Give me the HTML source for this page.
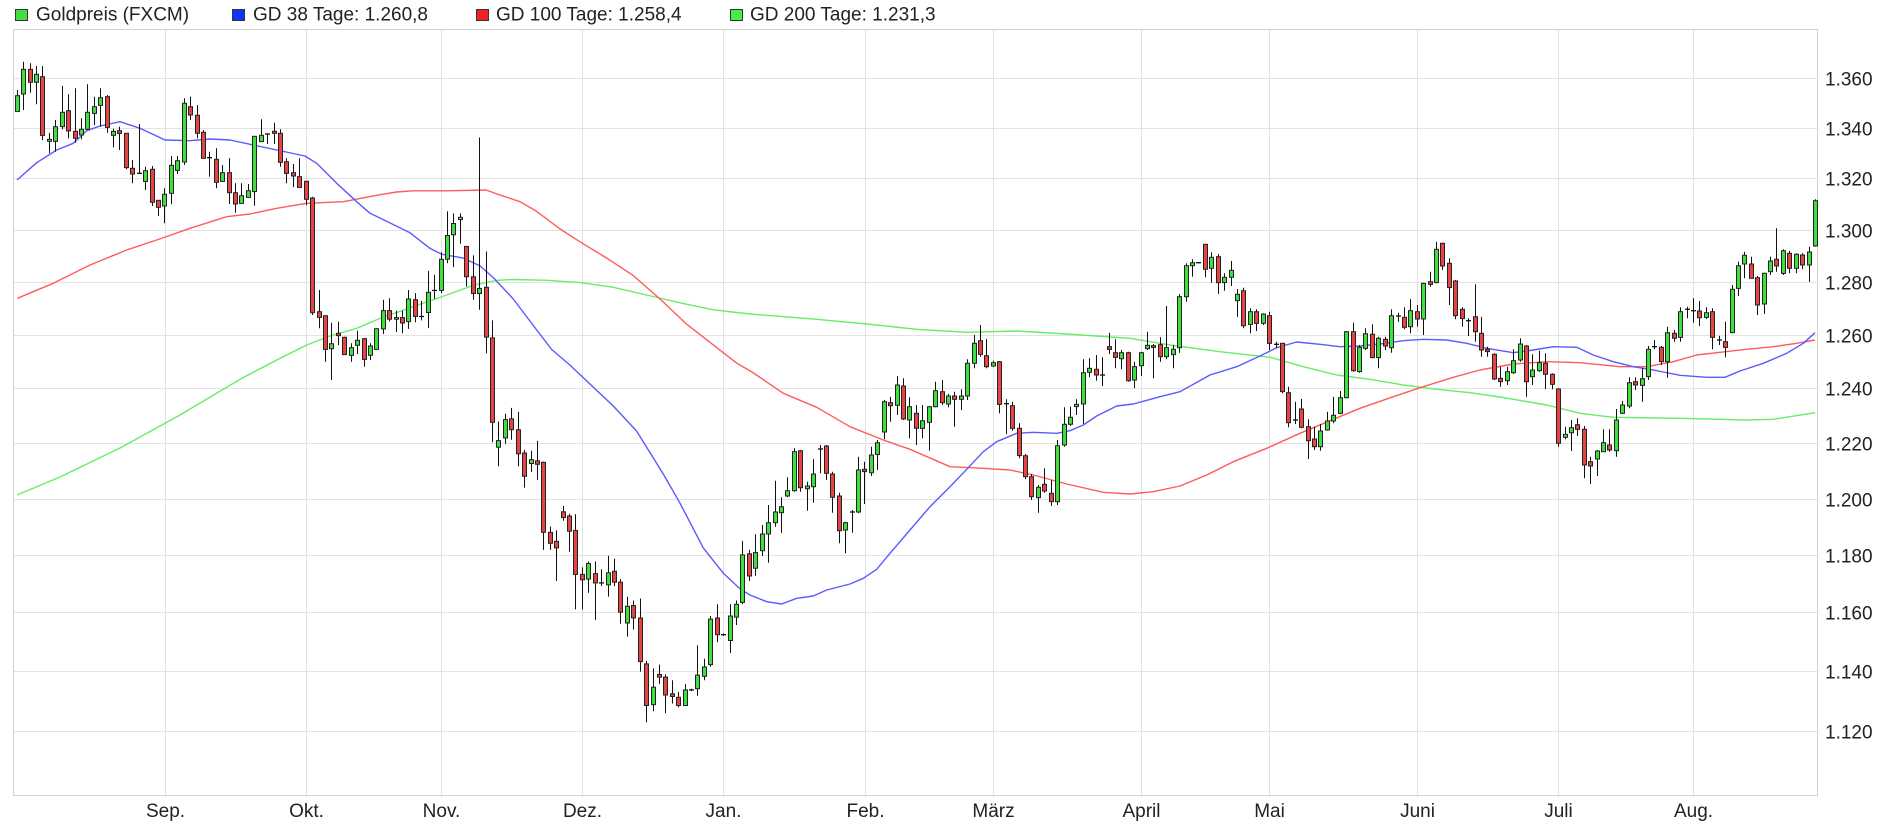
<!DOCTYPE html>
<html>
<head>
<meta charset="utf-8">
<style>
html,body{margin:0;padding:0;background:#fff;}
body{width:1890px;height:830px;overflow:hidden;}
svg{display:block;}
text{font-family:"Liberation Sans",Arial,sans-serif;fill:#222;}
</style>
</head>
<body>
<svg id="c" width="1890" height="830" viewBox="0 0 1890 830" xmlns="http://www.w3.org/2000/svg">
<rect x="0" y="0" width="1890" height="830" fill="#fff"/>
<!-- legend -->
<g font-size="19">
<rect x="15.5" y="9.5" width="12" height="11" fill="#44dd44" stroke="#333" stroke-width="1"/>
<text x="36" y="20.5">Goldpreis (FXCM)</text>
<rect x="232.5" y="9.5" width="12" height="11" fill="#1133ff" stroke="#333" stroke-width="1"/>
<text x="253" y="20.5">GD 38 Tage: 1.260,8</text>
<rect x="476.5" y="9.5" width="12" height="11" fill="#ee2222" stroke="#333" stroke-width="1"/>
<text x="496" y="20.5">GD 100 Tage: 1.258,4</text>
<rect x="730.5" y="9.5" width="12" height="11" fill="#44ee44" stroke="#333" stroke-width="1"/>
<text x="750" y="20.5">GD 200 Tage: 1.231,3</text>
</g>
<!-- grid -->
<g stroke="#e2e2e2" stroke-width="1">
<line x1="14" x2="1818" y1="78.5" y2="78.5"/>
<line x1="14" x2="1818" y1="128.5" y2="128.5"/>
<line x1="14" x2="1818" y1="178.5" y2="178.5"/>
<line x1="14" x2="1818" y1="230.5" y2="230.5"/>
<line x1="14" x2="1818" y1="282.5" y2="282.5"/>
<line x1="14" x2="1818" y1="335.5" y2="335.5"/>
<line x1="14" x2="1818" y1="388.5" y2="388.5"/>
<line x1="14" x2="1818" y1="443.5" y2="443.5"/>
<line x1="14" x2="1818" y1="499.5" y2="499.5"/>
<line x1="14" x2="1818" y1="555.5" y2="555.5"/>
<line x1="14" x2="1818" y1="612.5" y2="612.5"/>
<line x1="14" x2="1818" y1="671.5" y2="671.5"/>
<line x1="14" x2="1818" y1="731.5" y2="731.5"/>
<line y1="30" y2="797" x1="165.5" x2="165.5"/>
<line y1="30" y2="797" x1="306.5" x2="306.5"/>
<line y1="30" y2="797" x1="441.5" x2="441.5"/>
<line y1="30" y2="797" x1="582.5" x2="582.5"/>
<line y1="30" y2="797" x1="723.5" x2="723.5"/>
<line y1="30" y2="797" x1="865.5" x2="865.5"/>
<line y1="30" y2="797" x1="993.5" x2="993.5"/>
<line y1="30" y2="797" x1="1141.5" x2="1141.5"/>
<line y1="30" y2="797" x1="1269.5" x2="1269.5"/>
<line y1="30" y2="797" x1="1417.5" x2="1417.5"/>
<line y1="30" y2="797" x1="1558.5" x2="1558.5"/>
<line y1="30" y2="797" x1="1693.5" x2="1693.5"/>
</g>
<rect x="13.5" y="29.5" width="1804" height="766" fill="none" stroke="#d2d2d2" stroke-width="1"/>
<!-- y labels -->
<g font-size="19">
<text x="1825" y="85.3">1.360</text>
<text x="1825" y="135.3">1.340</text>
<text x="1825" y="185.3">1.320</text>
<text x="1825" y="237.3">1.300</text>
<text x="1825" y="289.3">1.280</text>
<text x="1825" y="342.3">1.260</text>
<text x="1825" y="395.3">1.240</text>
<text x="1825" y="450.3">1.220</text>
<text x="1825" y="506.3">1.200</text>
<text x="1825" y="562.3">1.180</text>
<text x="1825" y="619.3">1.160</text>
<text x="1825" y="678.3">1.140</text>
<text x="1825" y="738.3">1.120</text>
</g>
<!-- x labels -->
<g font-size="19" text-anchor="middle">
<text x="165.5" y="817">Sep.</text>
<text x="306.5" y="817">Okt.</text>
<text x="441.5" y="817">Nov.</text>
<text x="582.5" y="817">Dez.</text>
<text x="723.5" y="817">Jan.</text>
<text x="865.5" y="817">Feb.</text>
<text x="993.5" y="817">März</text>
<text x="1141.5" y="817">April</text>
<text x="1269.5" y="817">Mai</text>
<text x="1417.5" y="817">Juni</text>
<text x="1558.5" y="817">Juli</text>
<text x="1693.5" y="817">Aug.</text>
</g>
<!-- moving averages -->
<g fill="none" stroke-width="1.4" stroke-linejoin="round">
<polyline stroke="#66ee66" points="17,495 60,477 120,448 180,415 240,379.3 276.7,360 306.7,345 330,336 356.7,328.3 380,318.4 413.3,306.7 446.7,295 473.3,285.3 496.7,280.3 513.3,279.5 546.7,280.3 580,282.6 613.3,287.3 646.7,295 680,302.8 713.3,309.8 750,314 816.7,319.3 866.7,324 916.7,329.3 966.7,332.3 1016.7,331 1066.7,334 1130,338.3 1170,345 1220,351.7 1270,357.3 1303.3,366.7 1336.7,375 1370,379.3 1403.3,385 1436.7,389.3 1470,392.7 1500,397 1546.7,405 1580,413.3 1613.3,417.3 1680,418.3 1746.7,420 1773.3,419.3 1815,412.7"/>
<polyline stroke="#ff5c5c" points="17.3,298.3 53.3,283.3 90,265 126.7,250 156.7,240 190,228.3 226.7,216.7 250,214 276.7,208.3 306.7,203.3 343.3,201.7 380,194.7 396.7,192 413.3,190.8 446.7,190.8 486,190 496.7,193.9 520,201.7 536.7,211.4 560,228.9 580,241.8 606.7,258.1 633.3,275.6 660,299 686.7,324.2 713.3,344.9 736.7,363.1 752,372 783.3,393.3 816.7,407.3 850,426.7 883.3,440 910,449.3 950,466.7 983.3,468.3 1010,470 1033.3,475 1066.7,484 1103.3,492.3 1130,494 1153.3,491.7 1180,486 1206.7,475 1233.3,461.7 1266.7,448.3 1300,433.3 1333.3,419.3 1360,408.3 1393.3,396.7 1420,387.7 1453.3,377.3 1480,370 1513.3,364 1546.7,361.7 1580,362.7 1620,366.7 1646.7,366.7 1673.3,361.7 1696.7,355 1720,352.3 1746.7,349.3 1773.3,346.7 1796.7,343.3 1815,340"/>
<polyline stroke="#5a5aff" points="17,180 36.7,162.7 56.7,150 73.3,143.3 86.7,130.7 100,126 120,121.7 140,128.3 165,140 190,140.7 210,139 230,140 250,144.3 276.7,150 305,156 316.7,163.3 336.7,183.3 356.7,201.7 370,213.3 380,218 410,232.8 430,248.4 441.7,254.2 463.3,258.1 480,265.9 493.3,277.6 513.3,299 536.7,330 551.7,349.5 570,365.1 582.3,376.8 613.3,406 636.7,431.2 663.3,474 680,503.2 703.3,547.9 723.3,573.2 740,588.8 750,595 766.7,601.7 781.7,604 796.7,598.3 813.3,596 826.7,590 850,584 863.3,578.3 876.7,569.3 890,553.3 910,530 930,506.7 950,486.7 966.7,469.3 983.3,451.7 996.7,441.7 1016.7,433.3 1033.3,432.3 1056.7,433.3 1070,430.7 1083.3,425 1096.7,416 1116.7,406 1133.3,404 1160,396.7 1180,391.7 1210,375 1236.7,366.7 1260,356 1276.7,347.7 1296.7,342 1320,344.3 1340,346.7 1360,346 1380,344 1403.3,340.7 1423.3,339.3 1446.7,340 1466.7,343.3 1486.7,348.3 1513.3,352.7 1533.3,350 1553.3,346.7 1576.7,347.3 1593.3,355 1613.3,361.7 1633.3,366.7 1653.3,370 1680,375.3 1706.7,377.3 1725,377.3 1740,371 1763.3,363.3 1786.7,353.3 1803.3,343.3 1815,332.7"/>
</g>
<g id="cd"></g>
</svg>
<script>
var segs=[
[1,50,3,"g137,184,120,184 g58,132,35,180 r58,97,40,128 g73,97,48,163 r80,256,48,270 g268,274,248,310 g230,274,210,305 g187,230,108,238 r182,243,133,265 r244,265,115,278 g238,255,205,268 g187,238,103,240 g170,190,140,225 g143,166,115,230 r140,232,135,248 g244,256,236,292 r242,250,230,300 r250,353,250,358 r355,372,330,400 d370,370,222,372 g362,394,350,420 r358,457,348,468 r451,472,450,498 g433,468,415,520 g346,430,318,463 g332,361,318,372 g160,336,145,345 r170,195,140,210 r196,250,165,265 r247,325,240,325 d323,323,305,380 r328,397,295,415 g368,394,345,395 r368,428,325,462 r428,462,400,488 g437,460,400,460 g422,442,402,442 g259,425,258,467 g256,275,208,275 d252,252,250,282 r244,250,218,282 r250,337,238,350 r335,370,325,400 r368,378,342,412 r380,412,325,412 r394,448,392,466 r444,788,440,795 r785,802,720,835 r797,898,798,935 g881,896,818,990 r850,857,815,885 r862,914,860,914 g893,916,880,935 g871,886,842,912 r866,928,865,950 g888,916,880,930 g836,898,835,898"],
[58,120,2.5705,"g490,537,462,550 r490,512,458,518 g508,512,490,545 r508,522,490,548 g460,518,437,537 r462,505,445,520 d505,505,465,515 g443,495,388,535 d438,438,398,460 g358,438,340,445 g297,358,235,368 g266,295,240,378 g250,256,240,318 r325,403,325,428 r403,446,348,462 g433,446,45,488 r430,558,338,600 r560,777,515,828 g824,841,775,890 g770,817,755,832 r768,796,740,822 r796,858,750,890 r856,916,848,945 g873,883,850,905 r876,885,825,925 r880,1060,878,1105 r1060,1088,1045,1105 r1083,1100,1055,1185 r1007,1022,992,1030 r1018,1057,1012,1110 r1055,1168,1013,1258 r1168,1182,1150,1258 g1140,1180,1135,1215 r1166,1190,1135,1285 d1190,1190,1155,1198 g1164,1195,1120,1225 r1160,1188,1128,1198 r1188,1265,1180,1295 g1250,1293,1225,1328 r1248,1280,1235,1310 r1280,1392,1230,1418 r1398,1505,1390,1548 g1458,1503,1410,1520 r1425,1432,1400,1450 r1432,1478,1425,1525 r1475,1482,1440,1500 r1484,1505,1470,1510 g1465,1505,1450,1505 d1465,1465,1462,1468 g1427,1462,1350,1480 g1406,1430,1385,1440 g1283,1400,1275,1405 r1280,1323,1245,1342 d1323,1323,1320,1326 g1275,1338,1245,1370 g1245,1278,1235,1298 g1118,1240,1082,1245 r1115,1172,1105,1185 g1112,1152,1065,1172"],
[117,300,3,"g702,752,675,768 g668,702,615,788 g636,668,542,680 g620,638,592,698 g572,588,532,592 g455,572,445,575 r452,563,450,575 g558,566,545,632 g522,560,478,608 d447,447,435,520 r438,520,435,540 r522,592,515,638 r588,692,578,730 g668,690,665,760 d636,636,630,698 g510,636,470,640 r508,515,485,612 g465,518,440,528 g428,463,420,510 g305,396,300,418 r308,317,290,365 g255,316,228,345 r258,357,235,360 g320,360,292,415 r340,385,315,435 g362,385,315,415 g320,367,318,452 g272,320,245,322 r275,308,240,315 g288,312,282,322 r288,298,275,380 g288,298,268,330 g190,288,178,300 g130,190,105,205 r122,163,75,170 r167,200,118,205 g188,198,182,200 r185,313,183,340 d311,311,298,402 r317,385,305,392 r385,467,370,475 r467,530,462,538 r530,590,522,600 g562,593,555,638 r553,573,505,578 r580,605,540,618 g437,605,420,615 g373,435,322,440 g352,373,320,378 g313,320,298,345 g218,312,178,372 g205,217,175,232 r208,225,165,242 d225,225,172,258 r140,148,98,162 r158,172,118,205 g158,176,150,208 r158,242,155,245"],
[175,220,3,"g440,480,425,505 g398,437,395,468 g376,386,335,390 r377,382,372,475 r374,410,352,425 g383,410,258,418 g388,404,375,445 g230,383,222,398 g137,230,130,245 g128,137,118,170 d128,128,126,130 r73,148,73,172 g112,145,97,188 r110,188,102,222 g172,188,160,212 g151,172,123,198 g223,242,207,290 r212,317,203,325 g275,313,265,340 r275,310,268,333 g282,310,280,315 r287,370,275,390 d373,373,365,385 r370,515,370,520 r518,608,500,622 d600,600,545,612 r567,622,537,625 r620,662,598,717 r657,680,620,690 g633,680,612,692 g603,630,575,632 g586,603,530,610 g533,580,513,583 g335,533,333,535 r335,452,308,455 g382,455,375,458 g341,385,325,390 r343,413,313,415 g355,413,350,445 r358,378,350,390 g287,383,268,398 d288,288,278,305 r292,322,262,328 g272,320,238,340 r275,297,255,320 g190,297,188,345 r185,193,155,200 g88,188,65,190 r70,138,68,150 r130,203,115,255 r183,287,180,298 r268,296,262,320 d302,302,295,348 r290,335,193,365"],
[229,190,3,"r430,480,380,500 r478,485,470,500 r493,567,490,570 r565,575,530,590 g545,572,530,585 g512,548,478,552 g462,510,445,515 r468,575,465,620 g540,560,493,585 g518,542,482,545 r520,553,490,597 r553,583,550,598 r597,760,595,770 g733,742,710,748 g713,728,690,783 r704,718,685,738 r718,825,708,865 r815,828,800,882 g783,807,780,858 g758,785,718,785 r765,780,718,785 g690,782,657,800 g645,670,632,672 g578,648,562,655 r575,585,562,600 g566,586,535,635 g478,560,468,570 d470,470,450,478 r472,515,468,525 g428,515,410,563 r430,445,420,455 g365,442,352,455 d358,358,350,385 d362,362,325,398 r363,383,333,408 g368,382,352,387 r365,442,355,478 d450,450,437,465 r455,472,395,502 g298,428,285,430 g227,295,215,318 g196,222,185,265 r222,265,200,265 r263,345,258,375 g250,342,248,372 g213,245,200,255 r208,228,115,245 g182,250,178,255 r190,235,182,250 g193,235,190,250 r195,225,190,238 g186,225,170,275 g32,168,28,170"]
];
var out='';
segs.forEach(function(s){
  var k=s[0];
  s[3].trim().split(/\s+/).forEach(function(t){
    var c=t.charAt(0);
    var v=t.slice(1).split(',').map(Number);
    var x=Math.round(16.7+(k-1)*6.4225);
    var f=function(z){return s[1]+z/s[2];};
    var bt=f(v[0]),bb=f(v[1]),wt=f(v[2]),wb=f(v[3]);
    wt=Math.min(wt,bt);wb=Math.max(wb,bb);
    out+='<line x1="'+(x+0.5)+'" y1="'+wt.toFixed(1)+'" x2="'+(x+0.5)+'" y2="'+wb.toFixed(1)+'" stroke="#111" stroke-width="1"/>';
    if(c==='d'){
      out+='<line x1="'+(x-2)+'" x2="'+(x+3)+'" y1="'+bt.toFixed(1)+'" y2="'+bt.toFixed(1)+'" stroke="#111" stroke-width="1.3"/>';
    }else{
      var h=Math.max(bb-bt,1);
      out+='<rect x="'+(x-1.5)+'" y="'+bt.toFixed(1)+'" width="4" height="'+h.toFixed(1)+'" fill="'+(c==='g'?'#3ee03e':'#e84343')+'" stroke="#222" stroke-width="1"/>';
    }
    k++;
  });
});
document.getElementById('cd').innerHTML=out;
</script>
</body>
</html>
